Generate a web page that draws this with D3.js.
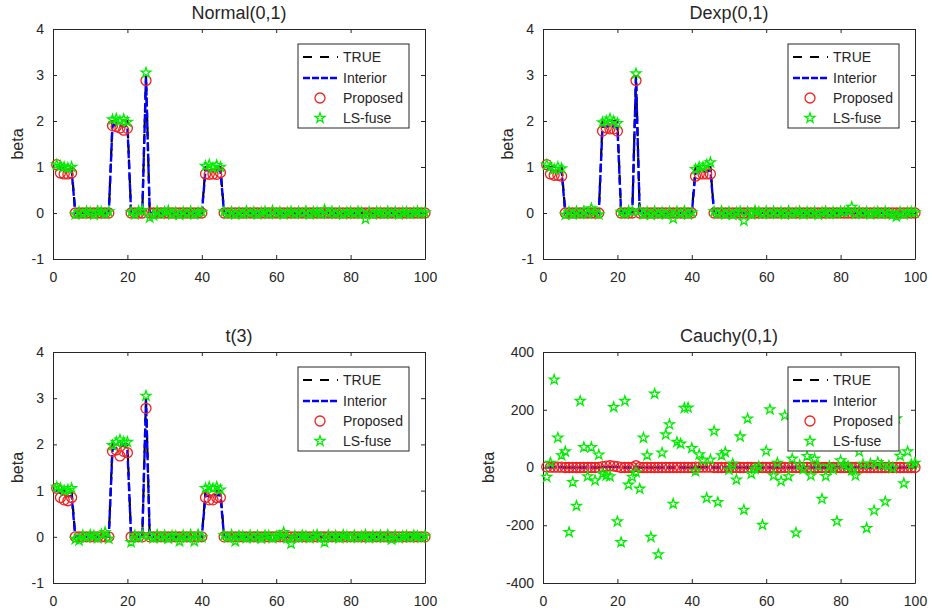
<!DOCTYPE html>
<meta charset="utf-8">
<script src="https://d3js.org/d3.v7.min.js"></script>
<style>
  body{margin:0;background:#fff;}
  svg text{font-family:"Liberation Sans",Arial,sans-serif;fill:#262626;}
</style>
<div id="chart"></div>
<script>

// true coefficients, positions 1..100
var trueBeta = [
  1,1,1,1,1, 0,0,0,0,0, 0,0,0,0,0, 2,2,2,2,2,
  0,0,0,0,3, 0,0,0,0,0, 0,0,0,0,0, 0,0,0,0,0,
  1,1,1,1,1, 0,0,0,0,0, 0,0,0,0,0, 0,0,0,0,0,
  0,0,0,0,0, 0,0,0,0,0, 0,0,0,0,0, 0,0,0,0,0,
  0,0,0,0,0, 0,0,0,0,0, 0,0,0,0,0, 0,0,0,0,0]

// Normal(0,1)
var propNormal = [
  1.05,0.87,0.85,0.85,0.87, 0,0,0,0,0, 0,0,0,0,0, 1.90,1.88,1.85,1.80,1.84,
  0,0,0,0,2.88, 0,0,0,0,0, 0,0,0,0,0, 0,0,0,0,0,
  0.85,0.84,0.85,0.84,0.88, 0,0,0,0,0, 0,0,0,0,0, 0,0,0,0,0,
  0,0,0,0,0, 0,0,0,0,0, 0,0,0,0,0, 0,0,0,0,0,
  0,0,0,0,0, 0,0,0,0,0, 0,0,0,0,0, 0,0,0,0,0]
var lsNormal = [
  1.05,1.02,1.00,0.98,1.00, -0.03,0.02,-0.02,0.03,0.01, -0.04,0.04,0.02,-0.02,0.03, 2.03,2.05,2.00,2.04,1.98,
  0.02,-0.03,0.04,0.06,3.05, -0.10,-0.05,0.03,-0.02,0.02, 0.05,-0.03,0.01,-0.04,0.02, -0.02,0.03,-0.03,0.01,0.02,
  1.02,1.05,0.98,1.04,1.00, 0.03,-0.02,0.02,-0.03,0.01, -0.02,0.04,-0.01,0.02,-0.03, 0.01,0.03,-0.02,0.05,-0.01,
  0.02,-0.03,0.01,0.03,-0.02, 0.02,-0.01,0.04,-0.03,0.02, 0.01,-0.02,0.07,-0.01,0.03, -0.02,0.02,-0.03,0.01,0.02,
  -0.02,0.03,0.01,-0.13,0.02, -0.03,0.02,0.01,-0.02,0.03, -0.01,0.02,-0.03,0.01,0.02, -0.02,0.01,0.03,-0.01,0.01]
var intNormal = [
  1.00,0.95,0.93,0.93,0.92, 0,0,0,0,0, 0,0,0,0,0, 1.92,1.90,1.90,1.88,1.90,
  0,0,0,0,2.95, 0,0,0,0,0, 0,0,0,0,0, 0,0,0,0,0,
  0.93,0.93,0.93,0.93,0.93, 0,0,0,0,0, 0,0,0,0,0, 0,0,0,0,0,
  0,0,0,0,0, 0,0,0,0,0, 0,0,0,0,0, 0,0,0,0,0,
  0,0,0,0,0, 0,0,0,0,0, 0,0,0,0,0, 0,0,0,0,0]

// Dexp(0,1)
var propDexp = [
  1.05,0.85,0.82,0.82,0.80, 0,0,0,0,0, 0,0,0,0,0, 1.78,1.85,1.83,1.83,1.78,
  0,0,0,0,2.88, 0,0,0,0,0, 0,0,0,0,0, 0,0,0,0,0,
  0.80,0.85,0.85,0.85,0.85, 0,0,0,0,0, 0,0,0,0,0, 0,0,0,0,0,
  0,0,0,0,0, 0,0,0,0,0, 0,0,0,0,0, 0,0,0,0,0,
  0,0,0,0,0, 0,0,0,0,0, 0,0,0,0,0, 0,0,0,0,0]
var lsDexp = [
  1.05,1.00,0.95,1.00,0.97, -0.04,0.02,-0.03,0.03,-0.02, 0.04,-0.01,0.10,0.02,-0.03, 1.97,2.00,2.05,2.00,1.95,
  0.02,-0.02,0.04,0.03,3.03, 0.05,-0.03,0.02,-0.04,0.03, -0.02,0.01,-0.03,0.02,-0.12, 0.03,-0.02,0.04,-0.03,0.01,
  0.95,1.00,1.00,1.05,1.10, 0.03,-0.02,0.04,-0.03,0.02, -0.04,0.01,0.03,-0.17,0.02, -0.03,0.05,0.02,-0.02,0.03,
  -0.02,0.03,-0.01,0.02,-0.03, 0.04,-0.02,0.01,0.03,-0.03, 0.02,-0.01,0.02,-0.04,0.01, 0.03,-0.02,0.02,-0.01,0.03,
  0.02,0.04,0.13,-0.02,0.03, -0.01,0.02,-0.03,0.01,0.02, -0.02,0.03,-0.01,-0.04,-0.08, 0.02,-0.03,0.01,0.02,0.01]
var intDexp = [
  1.00,0.95,0.92,0.90,0.90, 0,0,0,0,0, 0,0,0,0,0, 1.88,1.88,1.88,1.88,1.86,
  0,0,0,0,2.93, 0,0,0,0,0, 0,0,0,0,0, 0,0,0,0,0,
  0.88,0.90,0.90,0.90,0.93, 0,0,0,0,0, 0,0,0,0,0, 0,0,0,0,0,
  0,0,0,0,0, 0,0,0,0,0, 0,0,0,0,0, 0,0,0,0,0,
  0,0,0,0,0, 0,0,0,0,0, 0,0,0,0,0, 0,0,0,0,0]

// t(3)
var propT = [
  1.05,0.85,0.80,0.78,0.85, 0,0,0,0,0, 0,0,0,0,0, 1.85,1.88,1.75,1.85,1.82,
  0,0,0,0,2.78, 0,0,0,0,0, 0,0,0,0,0, 0,0,0,0,0,
  0.85,0.80,0.80,0.85,0.85, 0,0,0,0,0, 0,0,0,0,0, 0,0,0,0,0,
  0,0,0,0,0, 0,0,0,0,0, 0,0,0,0,0, 0,0,0,0,0,
  0,0,0,0,0, 0,0,0,0,0, 0,0,0,0,0, 0,0,0,0,0]
var lsT = [
  1.08,1.05,1.00,1.02,1.05, -0.05,-0.08,0.03,-0.02,0.04, 0.02,-0.03,0.05,0.10,-0.04, 1.98,2.05,2.10,2.05,2.05,
  -0.12,0.03,-0.02,0.04,3.05, 0.02,-0.03,0.04,-0.02,0.03, -0.04,0.02,0.01,-0.10,0.03, -0.02,0.04,-0.10,0.05,-0.01,
  1.05,1.08,1.05,1.08,1.02, 0.03,-0.02,0.04,-0.10,0.02, 0.01,-0.03,0.03,-0.02,0.02, -0.04,0.03,0.02,-0.03,0.01,
  0.02,0.10,-0.03,-0.15,0.02, -0.02,0.03,0.01,-0.03,0.02, 0.04,-0.02,-0.12,0.03,-0.01, 0.02,-0.03,0.04,0.01,-0.02,
  0.03,-0.02,0.01,0.04,-0.03, 0.02,-0.01,0.03,-0.02,0.04, -0.06,0.02,-0.03,0.01,0.02, -0.02,0.03,0.01,-0.02,0.02]
var intT = [
  1.02,0.95,0.90,0.88,0.88, 0,0,0,0,0, 0,0,0,0,0, 1.90,1.92,1.95,2.00,1.88,
  0,0,0,0,2.95, 0,0,0,0,0, 0,0,0,0,0, 0,0,0,0,0,
  0.90,0.88,0.90,0.90,0.90, 0,0,0,0,0, 0,0,0,0,0, 0,0,0,0,0,
  0,0,0,0,0, 0,0,0,0,0, 0,0,0,0,0, 0,0,0,0,0,
  0,0,0,0,0, 0,0,0,0,0, 0,0,0,0,0, 0,0,0,0,0]

// Cauchy(0,1)
var propCauchy = [
  2,1,1,1,1, 0,0,0,0,0, 0,0,0,0,0, 3,5,6,5,3,
  0,0,0,0,6, 0,0,0,0,0, 0,0,0,0,0, 0,0,0,0,0,
  1,1,1,1,1, 0,0,0,0,0, 0,0,0,0,0, 0,0,0,0,0,
  0,0,0,0,0, 0,0,0,0,0, 0,0,0,0,0, 0,0,0,0,0,
  0,0,0,0,0, 0,0,0,0,0, 0,0,0,0,0, 0,0,0,0,0]
var lsCauchy = [
  -33,16,304,103,42, 55,-224,-51,-133,230, 70,-31,70,-45,44, -22,-28,-31,209,-187,
  -259,230,-60,-33,-16, -74,103,42,-241,255, -301,51,114,149,-126, 88,82,206,207,67,
  -13,45,24,-106,27, 126,-120,42,53,-8, 13,-42,107,-147,169, -22,-5,3,-199,57,
  201,-28,16,-47,180, -31,30,-226,8,-6, 39,-28,30,5,-109, -30,4,-7,-186,24,
  9,5,-10,-28,55, 12,-210,13,-149,18, 8,-118,6,-2,170, 40,-55,55,10,16]
var intCauchy = [
  1,1,1,1,1, 0,0,0,0,0, 0,0,0,0,0, 2,2,2,2,2,
  0,0,0,0,3, 0,0,0,0,0, 0,0,0,0,0, 0,0,0,0,0,
  1,1,1,1,1, 0,0,0,0,0, 0,0,0,0,0, 0,0,0,0,0,
  0,0,0,0,0, 0,0,0,0,0, 0,0,0,0,0, 0,0,0,0,0,
  0,0,0,0,0, 0,0,0,0,0, 0,0,0,0,0, 0,0,0,0,0]

var xTicks = [0,20,40,60,80,100]
var smallTicks = [-1,0,1,2,3,4]
var cauchyTicks = [-400,-200,0,200,400]
var legendNames = ["TRUE","Interior","Proposed","LS-fuse"]

var panels = [
  {title:"Normal(0,1)", left:53, top:29, w:372, h:230, yDom:[-1,4], yTicks:smallTicks, prop:propNormal, ls:lsNormal, intr:intNormal, labelOff:36},
  {title:"Dexp(0,1)", left:543, top:29, w:372, h:230, yDom:[-1,4], yTicks:smallTicks, prop:propDexp, ls:lsDexp, intr:intDexp, labelOff:36},
  {title:"t(3)", left:53, top:352, w:372, h:231, yDom:[-1,4], yTicks:smallTicks, prop:propT, ls:lsT, intr:intT, labelOff:36},
  {title:"Cauchy(0,1)", left:543, top:352, w:372, h:231, yDom:[-400,400], yTicks:cauchyTicks, prop:propCauchy, ls:lsCauchy, intr:intCauchy, labelOff:55}
]

var red = "#f02020", green = "#00ee00"

var svg = d3.select("#chart").append("svg")
  .attr("width",932).attr("height",613)

var star = d3.symbol().type(d3.symbolStar).size(30)
var plain = function(d){ return String(d) }

panels.forEach(function(p){
  var g = svg.append("g").attr("transform","translate("+p.left+","+p.top+")")
  var x = d3.scaleLinear().domain([0,100]).range([0,p.w])
  var y = d3.scaleLinear().domain(p.yDom).range([p.h,0])
  var idx = trueBeta.map(function(d,i){ return i+1 })

  g.append("rect").attr("width",p.w).attr("height",p.h).attr("fill","#fff")

  // axes, ticks pointing inward on all four sides
  var styleAxis = function(sel){
    sel.selectAll(".domain").attr("stroke","#262626")
    sel.selectAll(".tick line").attr("stroke","#262626")
    sel.selectAll("text").attr("font-size","14px").attr("fill","#262626")
      .attr("font-family","'Liberation Sans',Arial,sans-serif")
  }
  g.append("g").attr("transform","translate(0,"+p.h+")")
    .call(d3.axisBottom(x).tickValues(xTicks).tickFormat(plain).tickSizeInner(-4).tickSizeOuter(0).tickPadding(13))
    .call(styleAxis)
  g.append("g")
    .call(d3.axisTop(x).tickValues(xTicks).tickSizeInner(-4).tickSizeOuter(0).tickFormat(""))
    .call(styleAxis)
  g.append("g")
    .call(d3.axisLeft(y).tickValues(p.yTicks).tickFormat(plain).tickSizeInner(-4).tickSizeOuter(0).tickPadding(9))
    .call(styleAxis)
  g.append("g").attr("transform","translate("+p.w+",0)")
    .call(d3.axisRight(y).tickValues(p.yTicks).tickSizeInner(-4).tickSizeOuter(0).tickFormat(""))
    .call(styleAxis)

  g.append("text").attr("x",p.w/2).attr("y",-10)
    .attr("text-anchor","middle").attr("font-size","18px").text(p.title)
  g.append("text")
    .attr("transform","translate("+(-p.labelOff)+","+(p.h/2)+") rotate(-90)")
    .attr("text-anchor","middle").attr("dy","0.35em").attr("font-size","16px").text("beta")

  var line = function(vals){
    return d3.line().x(function(d,i){ return x(idx[i]) }).y(function(d){ return y(d) })(vals)
  }

  g.append("path").attr("d",line(trueBeta)).attr("fill","none")
    .attr("stroke","#000").attr("stroke-width",2.2).attr("stroke-dasharray","9,6")
  g.append("path").attr("d",line(p.intr)).attr("fill","none")
    .attr("stroke","#0000ff").attr("stroke-width",2.4).attr("stroke-dasharray","8,3")

  g.selectAll(".prop").data(p.prop).enter().append("circle")
    .attr("cx",function(d,i){ return x(idx[i]) })
    .attr("cy",function(d){ return y(d) })
    .attr("r",5).attr("fill","none").attr("stroke",red).attr("stroke-width",1.3)

  g.selectAll(".ls").data(p.ls).enter().append("path")
    .attr("d",star)
    .attr("transform",function(d,i){ return "translate("+x(idx[i])+","+y(d)+")" })
    .attr("fill","none").attr("stroke",green).attr("stroke-width",1.3)

  // legend
  var lg = g.append("g").attr("transform","translate(245,15)")
  lg.append("rect").attr("width",111).attr("height",84)
    .attr("fill","#fff").attr("stroke","#262626").attr("stroke-width",1)
  var rows = [13,34,54,74]
  lg.append("line").attr("x1",5).attr("x2",40).attr("y1",rows[0]).attr("y2",rows[0])
    .attr("stroke","#000").attr("stroke-width",2.2).attr("stroke-dasharray","9,8")
  lg.append("line").attr("x1",5).attr("x2",40).attr("y1",rows[1]).attr("y2",rows[1])
    .attr("stroke","#0000ff").attr("stroke-width",2.4).attr("stroke-dasharray","7,2")
  lg.append("circle").attr("cx",22).attr("cy",rows[2]).attr("r",5)
    .attr("fill","none").attr("stroke",red).attr("stroke-width",1.3)
  lg.append("path").attr("d",star).attr("transform","translate(22,"+rows[3]+")")
    .attr("fill","none").attr("stroke",green).attr("stroke-width",1.3)
  legendNames.forEach(function(n,i){
    lg.append("text").attr("x",45).attr("y",rows[i]).attr("dy","0.35em")
      .attr("font-size","14px").text(n)
  })
})

</script>
